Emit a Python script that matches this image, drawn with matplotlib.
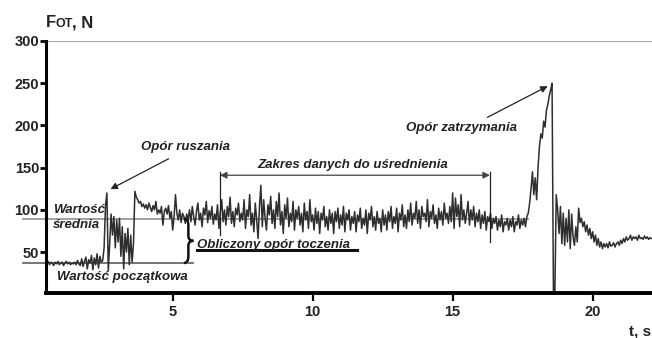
import numpy as np
import matplotlib
matplotlib.use('Agg')
import matplotlib.pyplot as plt
from matplotlib.path import Path
from matplotlib.patches import PathPatch

plt.rcParams['font.family'] = ['Liberation Sans', 'DejaVu Sans']
plt.rcParams['font.weight'] = 'bold'

t0 = 0.5
dt = 0.05
force = [
    36, 39, 35, 38, 37, 34, 38, 36, 39, 35, 37, 38, 34, 37, 39, 36, 38, 35, 37, 36,
    38, 35, 40, 36, 34, 42, 33, 39, 44, 30, 41, 37, 46, 29, 43, 35, 48, 31, 45, 38,
    40, 55, 105, 120, 28, 60, 95, 70, 92, 55, 88, 62, 90, 45, 80, 30, 72, 50, 78, 35,
    70, 38, 60, 122, 115, 112, 108, 110, 104, 107, 102, 106, 100, 108, 103, 98, 105, 100, 110, 95,
    100, 96, 104, 82, 98, 102, 95, 105, 90, 98, 76, 92, 118, 96, 88, 100, 85, 96, 92, 84,
    95, 88, 100, 86, 104, 92, 82, 98, 108, 88, 96, 80, 102, 94, 110, 85, 99, 90, 104, 83,
    95, 88, 106, 78, 97, 112, 86, 100, 82, 104, 92, 115, 84, 98, 80, 102, 94, 108, 86, 96,
    88, 112, 78, 100, 92, 118, 82, 96, 74, 108, 88, 66, 104, 129, 80, 112, 90, 76, 106, 94,
    116, 84, 100, 78, 110, 92, 120, 82, 98, 72, 106, 90, 114, 80, 96, 86, 110, 76, 100, 90,
    104, 82, 96, 74, 108, 88, 98, 78, 112, 86, 94, 76, 102, 84, 98, 72, 96, 88, 104, 80,
    92, 76, 100, 84, 96, 72, 98, 86, 102, 78, 94, 82, 104, 74, 96, 88, 100, 76, 92, 84,
    98, 74, 94, 86, 102, 78, 90, 82, 100, 72, 96, 88, 104, 80, 92, 76, 98, 84, 90, 74,
    100, 82, 94, 76, 98, 86, 104, 78, 92, 84, 102, 74, 96, 88, 106, 80, 94, 78, 100, 86,
    108, 82, 96, 90, 110, 84, 100, 78, 104, 92, 96, 86, 112, 80, 98, 90, 106, 84, 94, 78,
    102, 88, 98, 82, 108, 90, 96, 84, 104, 86, 120, 78, 114, 92, 106, 80, 118, 88, 100, 84,
    96, 110, 82, 100, 88, 104, 80, 96, 86, 100, 78, 94, 84, 98, 76, 92, 86, 96, 78, 90,
    84, 92, 76, 88, 80, 94, 74, 86, 82, 90, 76, 88, 80, 92, 74, 86, 82, 94, 78, 88,
    82, 90, 80, 92, 96, 108, 125, 145, 118, 138, 112, 150, 175, 190, 185, 205, 198, 218, 225, 235,
    242, 250, 0, 0, 118, 100, 72, 104, 60, 96, 58, 90, 62, 100, 54, 95, 68, 58, 80, 62,
    102, 85, 90, 80, 86, 74, 82, 70, 78, 66, 74, 62, 70, 58, 66, 56, 62, 54, 60, 56,
    60, 55, 62, 57, 58, 61, 56, 60, 62, 58, 64, 60, 66, 62, 68, 64, 66, 70, 64, 68,
    66, 68, 64, 70, 66, 67, 65, 69, 66, 68, 65, 67, 66,
]
t = t0 + dt * np.arange(len(force))

mean_level = 89.5
start_level = 37
xticks = [5, 10, 15, 20]
yticks = [50, 100, 150, 200, 250, 300]

fig = plt.figure(figsize=(6.52, 3.38), dpi=100)
ax = fig.add_axes([46 / 652, 1 - 293 / 338, 1 - 46 / 652, 252 / 338])
ax.set_xlim(0.475, 22.12)
ax.set_ylim(1.5, 300)

# reference levels
ax.plot([-0.35, 17.7], [mean_level, mean_level], color='#9a9a9a', lw=1.3, clip_on=False, zorder=1)
ax.plot([-0.35, 5.72], [start_level, start_level], color='#6a6a6a', lw=1.3, clip_on=False, zorder=1)
ax.axhline(300, color='#9a9a9a', lw=1.3, zorder=1)

ax.plot(t, force, color='#2e2e2e', lw=1.1, zorder=2)

for s in ['top', 'right']:
    ax.spines[s].set_visible(False)
ax.spines['left'].set_linewidth(2.2)
ax.spines['bottom'].set_linewidth(2.8)
ax.set_xticks(xticks)
ax.set_yticks(yticks)
ax.tick_params(axis='y', length=4, width=2, pad=1, labelsize=10.5)
ax.tick_params(axis='x', length=6, width=1.6, pad=3, labelsize=10.5)
for lab in ax.get_xticklabels() + ax.get_yticklabels():
    lab.set_fontweight('bold')
    lab.set_color('#222222')

txt = dict(fontsize=9.5, fontweight='bold', style='italic', color='#222222')

# starting resistance
ax.annotate('', xy=(2.69, 123), xytext=(4.94, 162),
            arrowprops=dict(arrowstyle='-|>', color='#222222', lw=0.9, mutation_scale=10))
ax.text(3.87, 174, 'Opór ruszania', ha='left', va='center', **txt)

# stopping resistance
ax.annotate('', xy=(18.48, 248), xytext=(16.15, 208),
            arrowprops=dict(arrowstyle='-|>', color='#222222', lw=0.9, mutation_scale=10))
ax.text(15.3, 197, 'Opór zatrzymania', ha='center', va='center', **txt)

# averaging range
ax.annotate('', xy=(6.69, 141), xytext=(16.33, 141),
            arrowprops=dict(arrowstyle='<|-|>', color='#444444', lw=0.9, mutation_scale=10,
                            shrinkA=0, shrinkB=0))
ax.plot([6.69, 6.69], [145, 70], color='#222222', lw=0.9, zorder=3)
ax.plot([16.33, 16.33], [145, 62], color='#222222', lw=0.9, zorder=3)
ax.text(11.44, 153, 'Zakres danych do uśrednienia', ha='center', va='center', **txt)

ax.text(0.73, 100, 'Wartość', ha='left', va='center', **txt)
ax.text(0.73, 81.5, 'średnia', ha='left', va='center', **txt)
ax.text(0.87, 20.5, 'Wartość początkowa', ha='left', va='center', **txt)

# computed rolling resistance with brace
ax.text(5.87, 58, 'Obliczony opór toczenia', ha='left', va='center', **txt)
ax.plot([5.87, 11.58], [53, 53], color='#111111', lw=2.2)
x0, x1, x2 = 5.40, 5.56, 5.74
ytop, ybot = mean_level, start_level
ym = (ytop + ybot) / 2
verts = [(x0, ytop), (x1, ytop), (x1, ytop - 8),
         (x1, ym + 6), (x1, ym), (x2, ym),
         (x1, ym), (x1, ym - 6),
         (x1, ybot + 8), (x1, ybot), (x0, ybot)]
codes = [Path.MOVETO, Path.CURVE3, Path.CURVE3,
         Path.LINETO, Path.CURVE3, Path.CURVE3,
         Path.CURVE3, Path.CURVE3,
         Path.LINETO, Path.CURVE3, Path.CURVE3]
ax.add_patch(PathPatch(Path(verts, codes), fill=False, lw=1.8, color='#111111', zorder=4))

# axis titles
fig.text(46 / 652, 1 - 27 / 338, 'F', fontsize=12, fontweight='bold', color='#222222', va='baseline')
fig.text(55 / 652, 1 - 27 / 338, 'OT', fontsize=9, fontweight='bold', color='#222222', va='baseline')
fig.text(72 / 652, 1 - 27 / 338, ', N', fontsize=12, fontweight='bold', color='#222222', va='baseline')
fig.text(651 / 652, 1 - 335 / 338, 't, s', fontsize=11, fontweight='bold', color='#222222',
         ha='right', va='baseline')

fig.savefig('out.png', dpi=100)
